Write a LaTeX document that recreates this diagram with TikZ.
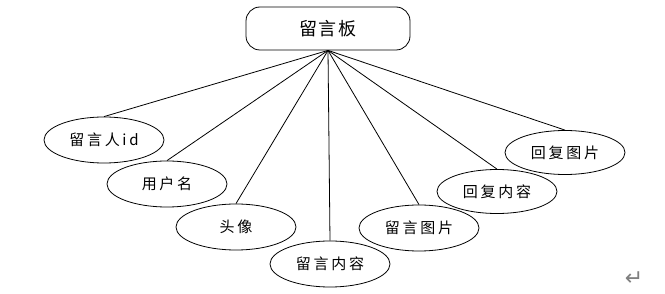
\documentclass[tikz,border=0pt]{standalone}
\usepackage{fontspec}
\newfontfamily\cjk[LetterSpace=18]{Noto Sans CJK SC}
\newfontfamily\cjkroot[LetterSpace=10]{Noto Sans CJK SC}
\newfontfamily\sym{DejaVu Sans}
\usetikzlibrary{shapes.geometric}
\begin{document}
\begin{tikzpicture}[x=1pt,y=-1pt,
  attr/.style={draw,ellipse,line width=0.8pt,minimum width=120pt,minimum height=46pt,inner sep=0pt,font=\cjk\fontsize{15}{17}\selectfont},
  rootbox/.style={draw,rounded corners=14pt,line width=0.8pt,minimum width=164pt,minimum height=43pt,inner sep=0pt,font=\cjkroot\fontsize{18}{20}\selectfont},
  link/.style={line width=0.8pt}]
\useasboundingbox (0,0) rectangle (665,294);
\node[rootbox] (root) at (328,28.5) {留言板};
\node[attr] (a1) at (104,140) {留言人id};
\node[attr] (a2) at (167,184) {用户名};
\node[attr] (a3) at (236,227) {头像};
\node[attr] (a4) at (330,264) {留言内容};
\node[attr] (a5) at (419,228) {留言图片};
\node[attr,minimum height=44pt] (a6) at (497,191.5) {回复内容};
\node[attr,minimum height=44pt] (a7) at (565,152.5) {回复图片};
\foreach \n in {a1,a2,a3,a4,a5,a6,a7}
  \draw[link] (root.south) -- (\n.north);
\node[text=gray,font=\sym\fontsize{22}{24}\selectfont,inner sep=0pt] (ret) at (634,279) {↵};
\end{tikzpicture}
\end{document}
